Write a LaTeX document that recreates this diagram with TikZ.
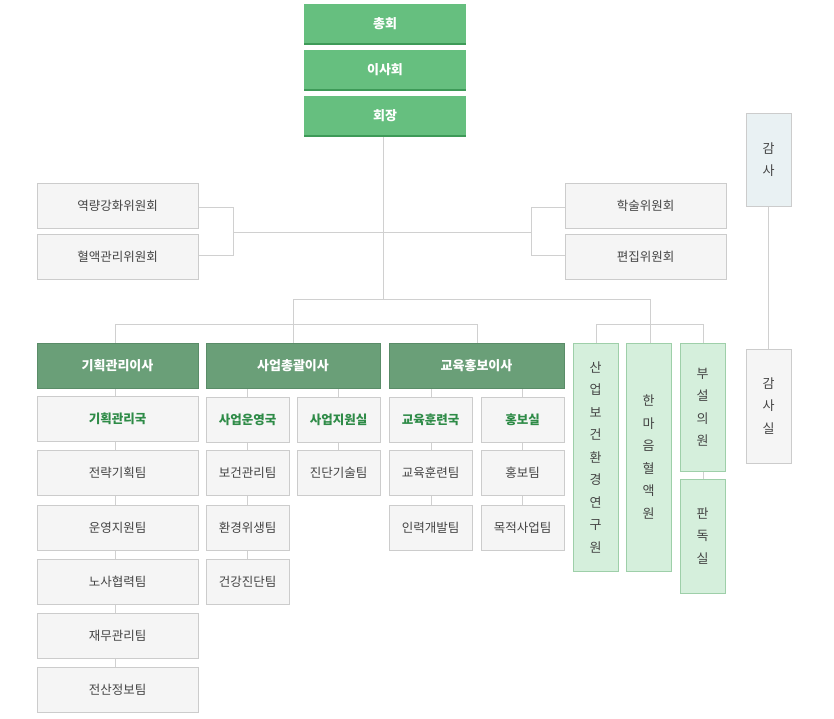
\documentclass[tikz,border=0pt]{standalone}
\usepackage{fontspec}
\setmainfont{Noto Sans CJK KR}
\begin{document}
\begin{tikzpicture}[x=1pt,y=-1pt,
 every node/.style={inner sep=0,outer sep=0},
 top/.style={fill=topg,draw=none,text=white,font=\fontsize{13}{15}\selectfont\bfseries},
 dir/.style={fill=dirg,draw=dirb,text=white,font=\fontsize{13}{15}\selectfont\bfseries},
 gbox/.style={fill=boxf,draw=boxb,text=txt,font=\fontsize{12.5}{15}\selectfont},
 hbox/.style={fill=boxf,draw=boxb,text=hg,font=\fontsize{12.5}{15}\selectfont\bfseries},
 lg/.style={fill=lgf,draw=lgb,text=txt,font=\fontsize{13}{22.5}\selectfont,align=center},
 ln/.style={draw=lnc,line width=0.8pt}]
\definecolor{topg}{HTML}{66BF7F}\definecolor{topb}{HTML}{3E9A58}
\definecolor{dirg}{HTML}{6A9F78}\definecolor{dirb}{HTML}{5A8C68}
\definecolor{boxf}{HTML}{F5F5F5}\definecolor{boxb}{HTML}{CCCCCC}
\definecolor{txt}{HTML}{444444}\definecolor{hg}{HTML}{2E8B47}
\definecolor{lgf}{HTML}{D5EFDC}\definecolor{lgb}{HTML}{9ECFA9}
\definecolor{gamf}{HTML}{E9F1F3}\definecolor{lnc}{HTML}{D0D0D0}
\useasboundingbox (0,0) rectangle (834,718);
\newcommand\bx[6]{\node[#1,minimum width=#4-#2,minimum height=#5-#3] (#6) at ({(#2+#4)/2},{(#3+#5)/2})}
% lines
\coordinate (c1) at (383,299);
\coordinate (lb) at (233,232);\coordinate (rb) at (531,232);
\coordinate (h1) at (293,299);\coordinate (h2) at (650,299);
\coordinate (d1) at (293,324);\coordinate (d2) at (650,324);
\draw[ln] (383,136) -- (c1);
\draw[ln] (lb) -- (rb);
\draw[ln] (198,207) -- (233,207) -- (233,255) -- (198,255);
\draw[ln] (565,207) -- (531,207) -- (531,255) -- (565,255);
\draw[ln] (h1) -- (h2);
\draw[ln] (h1) -- (d1); \draw[ln] (h2) -- (d2);
\draw[ln] (115,343) -- (115,324) -- (477,324) -- (477,343);
\draw[ln] (293,324) -- (293,343);
\draw[ln] (596,343) -- (596,324) -- (703,324) -- (703,343);
\draw[ln] (650,324) -- (650,343);
\draw[ln] (768,206) -- (768,349);
\draw[ln] (115,388) -- (115,667);
\draw[ln] (247,388) -- (247,559);
\draw[ln] (338,388) -- (338,450);
\draw[ln] (431,388) -- (431,505);
\draw[ln] (522,388) -- (522,505);
\draw[ln] (703,471) -- (703,479);
% top
\bx{top}{304}{4}{466}{44}{a}{총회}; \draw[topb,line width=1.5pt] (a.south west) -- (a.south east);
\bx{top}{304}{50}{466}{90}{b}{이사회}; \draw[topb,line width=1.5pt] (b.south west) -- (b.south east);
\bx{top}{304}{96}{466}{136}{c}{회장}; \draw[topb,line width=1.5pt] (c.south west) -- (c.south east);
\bx{gbox}{37}{183}{198}{228}{k1}{역량강화위원회};
\bx{gbox}{37}{234}{198}{279}{k2}{혈액관리위원회};
\bx{gbox}{565}{183}{726}{228}{k3}{학술위원회};
\bx{gbox}{565}{234}{726}{279}{k4}{편집위원회};
\bx{dir}{37}{343}{198}{388}{e1}{기획관리이사};
\bx{dir}{206}{343}{380}{388}{e2}{사업총괄이사};
\bx{dir}{389}{343}{564}{388}{e3}{교육홍보이사};
\bx{lg}{573}{343}{618}{571}{f1}{산\\업\\보\\건\\환\\경\\연\\구\\원};
\bx{lg}{626}{343}{671}{571}{f2}{한\\마\\음\\혈\\액\\원};
\bx{lg}{680}{343}{725}{471}{f3}{부\\설\\의\\원};
\bx{lg}{680}{479}{725}{593}{f4}{판\\독\\실};
\bx{gbox,fill=gamf,align=center,font=\fontsize{13}{22.5}\selectfont}{746}{113}{791}{206}{g1}{감\\사};
\bx{gbox,align=center,font=\fontsize{13}{22.5}\selectfont}{746}{349}{791}{463}{g2}{감\\사\\실};
\bx{hbox}{37}{396}{198}{441}{p1}{기획관리국};
\bx{gbox}{37}{450}{198}{495}{p2}{전략기획팀};
\bx{gbox}{37}{505}{198}{550}{p3}{운영지원팀};
\bx{gbox}{37}{559}{198}{604}{p4}{노사협력팀};
\bx{gbox}{37}{613}{198}{658}{p5}{재무관리팀};
\bx{gbox}{37}{667}{198}{712}{p6}{전산정보팀};
\bx{hbox}{206}{397}{289}{442}{q1}{사업운영국};
\bx{gbox}{206}{450}{289}{495}{q2}{보건관리팀};
\bx{gbox}{206}{505}{289}{550}{q3}{환경위생팀};
\bx{gbox}{206}{559}{289}{604}{q4}{건강진단팀};
\bx{hbox}{297}{397}{380}{442}{r1}{사업지원실};
\bx{gbox}{297}{450}{380}{495}{r2}{진단기술팀};
\bx{hbox}{389}{397}{472}{442}{s1}{교육훈련국};
\bx{gbox}{389}{450}{472}{495}{s2}{교육훈련팀};
\bx{gbox}{389}{505}{472}{550}{s3}{인력개발팀};
\bx{hbox}{481}{397}{564}{442}{t1}{홍보실};
\bx{gbox}{481}{450}{564}{495}{t2}{홍보팀};
\bx{gbox}{481}{505}{564}{550}{t3}{목적사업팀};
\end{tikzpicture}
\end{document}
